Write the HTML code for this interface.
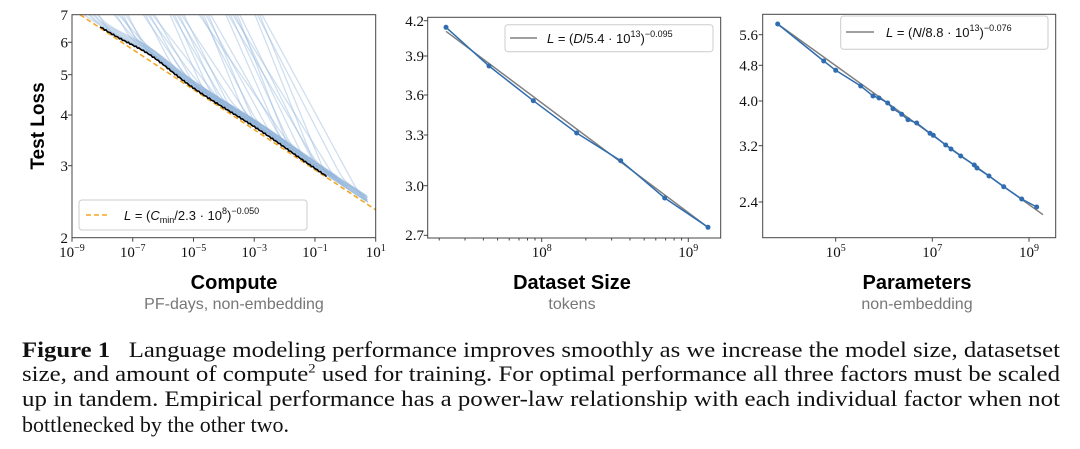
<!DOCTYPE html>
<html><head><meta charset="utf-8">
<style>
body{margin:0;background:#fff;width:1080px;height:449px;overflow:hidden;position:relative;font-family:"Liberation Sans",sans-serif}
.cap{position:absolute;left:22px;font-family:"Liberation Serif",serif;font-size:22px;color:#111;white-space:nowrap;line-height:24px;transform-origin:0 0;display:inline-block}
</style></head><body>
<svg width="1080" height="320" style="position:absolute;left:0;top:0" font-family="Liberation Serif, serif">
<defs><clipPath id="c1"><rect x="72" y="14.7" width="303.7" height="223"/></clipPath></defs>
<g id="curves" clip-path="url(#c1)" fill="none" stroke="#8fb3d9" stroke-opacity="0.42" stroke-width="1.3"></g>
<g clip-path="url(#c1)">
<line x1="80" y1="14.7" x2="376" y2="210" stroke="#f5a623" stroke-width="1.6" stroke-dasharray="5,3"/>
<path id="blk" fill="none" stroke="#000" stroke-width="1.6"/>
</g>
<rect x="72" y="14.7" width="303.7" height="223" fill="none" stroke="#444" stroke-width="1"/>
<rect x="79" y="200" width="228" height="30" rx="3" fill="#fff" fill-opacity="0.85" stroke="#ccc"/>
<line x1="86" y1="215" x2="110" y2="215" stroke="#f5a623" stroke-width="1.6" stroke-dasharray="5,3"/>
<text x="124" y="220" font-family="Liberation Sans, sans-serif" font-size="13" fill="#111"><tspan font-style="italic">L</tspan> = (<tspan font-style="italic">C</tspan><tspan font-size="9" dy="3">min</tspan><tspan dy="-3">/2.3 · 10</tspan><tspan font-size="9" dy="-6">8</tspan><tspan dy="6">)</tspan><tspan font-size="9" dy="-6">−0.050</tspan></text>
<g font-size="15" fill="#111" text-anchor="end">
<text x="68" y="20">7</text><text x="68" y="47.5">6</text><text x="68" y="80">5</text><text x="68" y="120">4</text><text x="68" y="171">3</text><text x="68" y="243">2</text>
</g>
<g stroke="#444"><line x1="72" y1="42.3" x2="68" y2="42.3"/><line x1="72" y1="74.7" x2="68" y2="74.7"/><line x1="72" y1="115" x2="68" y2="115"/><line x1="72" y1="165.7" x2="68" y2="165.7"/></g>
<g font-size="15" fill="#111" text-anchor="middle" id="xt1"></g>
<text transform="translate(44,126) rotate(-90)" text-anchor="middle" font-family="Liberation Sans, sans-serif" font-weight="bold" font-size="19" fill="#000">Test Loss</text>
<text x="234" y="289" text-anchor="middle" font-family="Liberation Sans, sans-serif" font-weight="bold" font-size="20" fill="#000">Compute</text>
<text x="234" y="309" text-anchor="middle" font-family="Liberation Sans, sans-serif" font-size="16" fill="#777">PF-days, non-embedding</text>

<rect x="427.7" y="17.3" width="293" height="220.7" fill="none" stroke="#444"/>
<line x1="446" y1="31.3" x2="708" y2="227.3" stroke="#808080" stroke-width="1.5"/>
<polyline points="446,27.3 489,66 533.3,100.7 576.7,133 620.7,160.7 664.7,198 708,227.3" fill="none" stroke="#2f6db0" stroke-width="1.5"/>
<g fill="#2f6db0"><circle cx="446" cy="27.3" r="2.5"/><circle cx="489" cy="66" r="2.5"/><circle cx="533.3" cy="100.7" r="2.5"/><circle cx="576.7" cy="133" r="2.5"/><circle cx="620.7" cy="160.7" r="2.5"/><circle cx="664.7" cy="198" r="2.5"/><circle cx="708" cy="227.3" r="2.5"/></g>
<rect x="505" y="24.7" width="208" height="27" rx="3" fill="#fff" stroke="#ccc"/>
<line x1="510" y1="38" x2="537" y2="38" stroke="#808080" stroke-width="1.5"/>
<text x="547" y="43" font-family="Liberation Sans, sans-serif" font-size="13" fill="#111"><tspan font-style="italic">L</tspan> = (<tspan font-style="italic">D</tspan>/5.4 · 10<tspan font-size="9" dy="-6">13</tspan><tspan dy="6">)</tspan><tspan font-size="9" dy="-6">−0.095</tspan></text>
<g font-size="15" fill="#111" text-anchor="end">
<text x="424" y="26">4.2</text><text x="424" y="61">3.9</text><text x="424" y="100">3.6</text><text x="424" y="140">3.3</text><text x="424" y="191">3.0</text><text x="424" y="240">2.7</text></g>
<g stroke="#444" id="t2"></g>
<g font-size="15" fill="#111" text-anchor="middle">
<text x="541.7" y="257">10<tspan font-size="10" dy="-6">8</tspan></text>
<text x="688.3" y="257">10<tspan font-size="10" dy="-6">9</tspan></text></g>
<text x="572" y="289" text-anchor="middle" font-family="Liberation Sans, sans-serif" font-weight="bold" font-size="20" fill="#000">Dataset Size</text>
<text x="572" y="309" text-anchor="middle" font-family="Liberation Sans, sans-serif" font-size="16" fill="#777">tokens</text>

<rect x="762.7" y="14.3" width="293" height="223.4" fill="none" stroke="#444"/>
<line x1="777.7" y1="24" x2="1043" y2="214.7" stroke="#808080" stroke-width="1.5"/>
<polyline id="p3" fill="none" stroke="#2f6db0" stroke-width="1.5" points="777.7,24 823.7,61 835.7,70.3 860.7,86 873,96 879,98 887.7,103 893,108.7 901.7,114.3 908,119.7 916.7,123 930,133.3 933.3,135.3 945.7,145 951,149 960.7,156 974.3,165 977,168 989,176 1003.7,186.7 1021.7,199 1036.7,207"/>
<g id="d3" fill="#2f6db0"></g>
<rect x="840.7" y="16" width="207.3" height="33.3" rx="3" fill="#fff" stroke="#ccc"/>
<line x1="846" y1="32" x2="874" y2="32" stroke="#808080" stroke-width="1.5"/>
<text x="886" y="37" font-family="Liberation Sans, sans-serif" font-size="13" fill="#111"><tspan font-style="italic">L</tspan> = (<tspan font-style="italic">N</tspan>/8.8 · 10<tspan font-size="9" dy="-6">13</tspan><tspan dy="6">)</tspan><tspan font-size="9" dy="-6">−0.076</tspan></text>
<g font-size="15" fill="#111" text-anchor="end">
<text x="758" y="40">5.6</text><text x="758" y="70.5">4.8</text><text x="758" y="106">4.0</text><text x="758" y="151">3.2</text><text x="758" y="207">2.4</text></g>
<g font-size="15" fill="#111" text-anchor="middle">
<text x="835.7" y="257">10<tspan font-size="10" dy="-6">5</tspan></text>
<text x="932.3" y="257">10<tspan font-size="10" dy="-6">7</tspan></text>
<text x="1029" y="257">10<tspan font-size="10" dy="-6">9</tspan></text></g>
<g stroke="#444" id="t3"></g>
<text x="917" y="289" text-anchor="middle" font-family="Liberation Sans, sans-serif" font-weight="bold" font-size="20" fill="#000">Parameters</text>
<text x="917" y="309" text-anchor="middle" font-family="Liberation Sans, sans-serif" font-size="16" fill="#777">non-embedding</text>
</svg>
<div class="cap fit" style="top:338px"><b>Figure 1</b>&nbsp;&nbsp; Language modeling performance improves smoothly as we increase the model size, datasetset</div>
<div class="cap fit" style="top:362px">size, and amount of compute<sup style="font-size:13px;line-height:0">2</sup> used for training. For optimal performance all three factors must be scaled</div>
<div class="cap fit" style="top:387px">up in tandem. Empirical performance has a power-law relationship with each individual factor when not</div>
<div class="cap" id="last" style="top:413px">bottlenecked by the other two.</div>
<script>
(function(){
var NS="http://www.w3.org/2000/svg";
function el(p,t,a){var e=document.createElementNS(NS,t);for(var kk in a)e.setAttribute(kk,a[kk]);p.appendChild(e);return e;}
function orange(px){return 14.7+(px-80)*(195.3/296);}
function bump(px){ if(px<100||px>330)return 0; var b=5*Math.exp(-Math.pow((px-150)/28,2)); b+=2*Math.exp(-Math.pow((px-260)/40,2)); return b;}
function envb(px){return orange(px)-1-bump(px);}
var bd="";
for(var bx=100;bx<=327;bx+=1.5){var by=envb(bx)+(Math.sin(bx*1.7)*0.6);bd+=(bd?"L":"M")+bx.toFixed(1)+","+by.toFixed(1);}
document.getElementById("blk").setAttribute("d",bd);
var g=document.getElementById("curves");
for(var ci=0;ci<44;ci++){
 var xs=72+ci*4.3+((ci*37)%13);
 var sl=0.95+((ci*13)%9)*0.12+ci*0.018;
 var off=1.5+((ci*7)%6)*1.1;
 var xe=Math.min(368,xs+110+((ci*29)%60)+ci*0.8);
 var pd="";
 for(var px=xs;px<=xe;px+=1.5){
  var aa=14.7+(px-xs)*sl, bb=envb(px)-off;
  var diff=aa-bb, py, kq=8;
  if(Math.abs(diff)<kq){py=Math.min(aa,bb)-(kq-Math.abs(diff))*(kq-Math.abs(diff))/(4*kq);} else py=Math.min(aa,bb);
  pd+=(pd?"L":"M")+px.toFixed(1)+","+py.toFixed(1);
 }
 el(g,"path",{d:pd});
}
var xt=document.getElementById("xt1");
var svg=xt.ownerSVGElement;
var ex=["−9","−7","−5","−3","−1","1"];
for(var j=0;j<6;j++){var tx=72+j*60.74;var t=el(xt,"text",{x:tx,y:257});t.textContent="10";var sp=el(t,"tspan",{"font-size":"10",dy:"-6"});sp.textContent=ex[j];
 el(svg,"line",{x1:tx,x2:tx,y1:237.7,y2:241.7,stroke:"#444"});}
var t2=document.getElementById("t2");
[20.7,56,95,135,185.7,235.3].forEach(function(y){el(t2,"line",{x1:427.7,x2:423.7,y1:y,y2:y});});
var dec=146.6;
[2,3,4,5,6,7,8,9].forEach(function(m){var x1=541.7+(Math.log10(m)-1)*dec;if(x1>427.7)el(t2,"line",{x1:x1,x2:x1,y1:238,y2:240.5});
 var x2=541.7+Math.log10(m)*dec;el(t2,"line",{x1:x2,x2:x2,y1:238,y2:240.5});
 var x3=688.3+Math.log10(m)*dec;if(x3<720)el(t2,"line",{x1:x3,x2:x3,y1:238,y2:240.5});});
[541.7,688.3].forEach(function(x){el(t2,"line",{x1:x,x2:x,y1:238,y2:242});});
var t3=document.getElementById("t3");
[34.7,65.3,101,145.7,202].forEach(function(y){el(t3,"line",{x1:762.7,x2:758.7,y1:y,y2:y});});
[835.7,932.3,1029].forEach(function(x){el(t3,"line",{x1:x,x2:x,y1:237.7,y2:241.7});});
var d3=document.getElementById("d3");
document.getElementById("p3").getAttribute("points").split(" ").forEach(function(p){var c=p.split(",");el(d3,"circle",{cx:c[0],cy:c[1],r:2.5});});
var fits=document.querySelectorAll(".fit");
for(var q=0;q<fits.length;q++){var w=fits[q].getBoundingClientRect().width;fits[q].style.transform="scaleX("+(1038/w)+")";}
})();
</script>
</body></html>
